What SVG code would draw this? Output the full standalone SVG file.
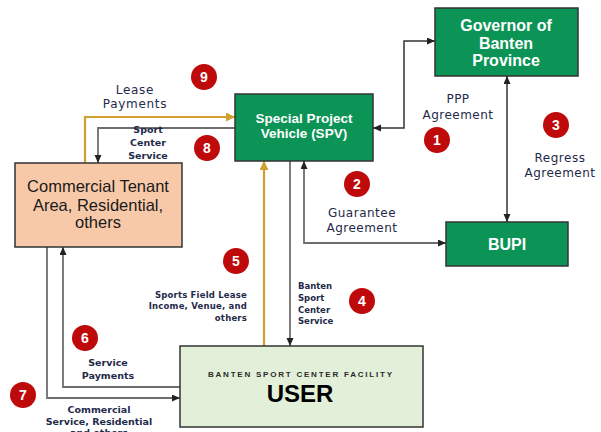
<svg xmlns="http://www.w3.org/2000/svg" width="601" height="432" viewBox="0 0 601 432">
<style>
.box{stroke:#333;stroke-width:1.5}
.green{fill:#0B9455}
.wt{fill:#fff;font-family:"Liberation Sans",Arial,sans-serif;font-weight:bold;text-anchor:middle}
.lbl{fill:#1F2A4A;font-family:"DejaVu Sans",Verdana,sans-serif;text-anchor:middle}
.sb{font-weight:bold}
.gray{fill:none;stroke:#6e6e6e;stroke-width:1.8}
.dark{fill:none;stroke:#333;stroke-width:1.5}
.gold{fill:none;stroke:#CFA030;stroke-width:2.2}
.num circle{fill:#BE0A0A}
.num text{fill:#fff;font-family:"Liberation Sans",Arial,sans-serif;font-weight:bold;font-size:14px;text-anchor:middle}
</style>
<defs>
<marker id="ah" markerUnits="userSpaceOnUse" markerWidth="9" markerHeight="8" refX="8" refY="3.5" orient="auto-start-reverse"><path d="M0,0 L8,3.5 L0,7 z" fill="#222"/></marker>
<marker id="ag" markerUnits="userSpaceOnUse" markerWidth="11" markerHeight="10" refX="9" refY="4.5" orient="auto-start-reverse"><path d="M0,0 L9,4.5 L0,9 z" fill="#CFA030"/></marker>
</defs>
<rect width="601" height="432" fill="#fff"/>
<g id="connectors">
<path class="dark" d="M373,128 H404 V41 H435" marker-start="url(#ah)" marker-end="url(#ah)"/>
<path class="dark" d="M507,76 V222" marker-start="url(#ah)" marker-end="url(#ah)"/>
<path class="gray" d="M304,161 V243 H446" marker-start="url(#ah)" marker-end="url(#ah)"/>
<path class="gray" d="M290,161 V346" marker-end="url(#ah)"/>
<path class="gold" d="M264,346 V161" marker-end="url(#ag)"/>
<path class="gold" d="M85,163 V117 H235" marker-end="url(#ag)"/>
<path class="gray" d="M235,128 H98 V163" marker-end="url(#ah)"/>
<path class="gray" d="M180,387 H63 V247" marker-end="url(#ah)"/>
<path class="gray" d="M47,247 V398 H180" marker-end="url(#ah)"/>
</g>
<g id="governor">
<rect class="box green" x="435" y="8" width="143" height="68"/>
<text class="wt" font-size="16"><tspan x="506" y="31">Governor of</tspan><tspan x="506" y="49">Banten</tspan><tspan x="506" y="66">Province</tspan></text>
</g>
<g id="spv">
<rect class="box green" x="235" y="94" width="138" height="67"/>
<text class="wt" font-size="13.5"><tspan x="304" y="123">Special Project</tspan><tspan x="304" y="138">Vehicle (SPV)</tspan></text>
</g>
<g id="bupi">
<rect class="box green" x="446" y="222" width="122" height="44"/>
<text class="wt" font-size="16" x="507" y="250">BUPI</text>
</g>
<g id="commercial">
<rect class="box" fill="#F8C9A8" x="15" y="163" width="167" height="84"/>
<text fill="#1a1a1a" font-family="Liberation Sans,Arial,sans-serif" font-size="16.5" text-anchor="middle"><tspan x="98" y="192">Commercial Tenant</tspan><tspan x="98" y="211">Area, Residential,</tspan><tspan x="98" y="228">others</tspan></text>
</g>
<g id="user">
<rect class="box" fill="#E2EFD9" x="180" y="346" width="243" height="81"/>
<text fill="#2a2a2a" font-family="Liberation Sans,Arial,sans-serif" font-weight="bold" font-size="8" x="300" y="377" text-anchor="middle" textLength="184" lengthAdjust="spacing">BANTEN SPORT CENTER FACILITY</text>
<text fill="#000" font-family="Liberation Sans,Arial,sans-serif" font-weight="bold" font-size="24" x="300" y="402" text-anchor="middle">USER</text>
</g>
<g id="labels">
<text class="lbl" font-size="12" letter-spacing="0.7"><tspan x="135" y="94">Lease</tspan><tspan x="135" y="108">Payments</tspan></text>
<text class="lbl" font-size="12" letter-spacing="0.5"><tspan x="458" y="103">PPP</tspan><tspan x="458" y="119">Agreement</tspan></text>
<text class="lbl" font-size="12" letter-spacing="0.5"><tspan x="560" y="162">Regress</tspan><tspan x="560" y="177">Agreement</tspan></text>
<text class="lbl" font-size="12" letter-spacing="0.5"><tspan x="362" y="217">Guarantee</tspan><tspan x="362" y="232">Agreement</tspan></text>
<text class="lbl sb" font-size="9.5"><tspan x="148" y="133">Sport</tspan><tspan x="148" y="146">Center</tspan><tspan x="148" y="159">Service</tspan></text>
<text class="lbl sb" fill="#2F2040" font-size="8.5" style="text-anchor:start"><tspan x="298" y="289">Banten</tspan><tspan x="298" y="301">Sport</tspan><tspan x="298" y="313">Center</tspan><tspan x="298" y="324">Service</tspan></text>
<text class="lbl sb" fill="#2B2B4B" font-size="8.5" letter-spacing="0.2" style="text-anchor:end"><tspan x="247" y="298">Sports Field Lease</tspan><tspan x="247" y="309">Income, Venue, and</tspan><tspan x="247" y="321">others</tspan></text>
<text class="lbl sb" font-size="9.5"><tspan x="108" y="366">Service</tspan><tspan x="108" y="379">Payments</tspan></text>
<text class="lbl sb" font-size="9.5"><tspan x="99" y="413">Commercial</tspan><tspan x="99" y="425">Service, Residential</tspan><tspan x="99" y="436">and others</tspan></text>
</g>
<g id="numbers">
<g class="num"><circle cx="437" cy="140" r="13"/><text x="437" y="145">1</text></g>
<g class="num"><circle cx="357" cy="184" r="13"/><text x="357" y="189">2</text></g>
<g class="num"><circle cx="556" cy="125" r="13"/><text x="556" y="130">3</text></g>
<g class="num"><circle cx="362" cy="301" r="13"/><text x="362" y="306">4</text></g>
<g class="num"><circle cx="236" cy="261" r="13"/><text x="236" y="266">5</text></g>
<g class="num"><circle cx="85" cy="338" r="13"/><text x="85" y="343">6</text></g>
<g class="num"><circle cx="23" cy="395" r="13"/><text x="23" y="400">7</text></g>
<g class="num"><circle cx="207" cy="148" r="13"/><text x="207" y="153">8</text></g>
<g class="num"><circle cx="204" cy="77" r="13"/><text x="204" y="82">9</text></g>
</g>
</svg>
